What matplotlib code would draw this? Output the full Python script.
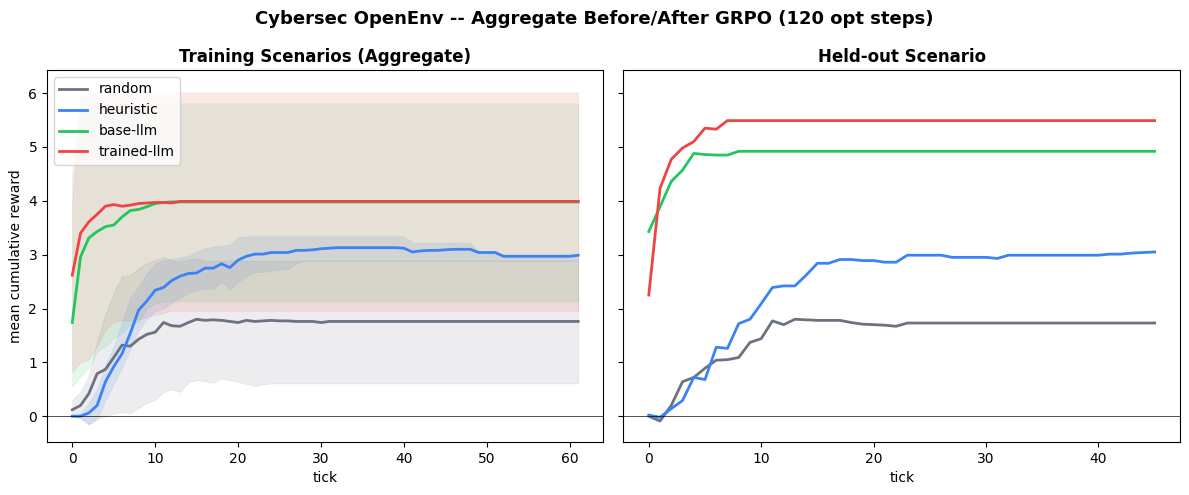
import matplotlib
matplotlib.use("Agg")
import matplotlib.pyplot as plt
import numpy as np

# ---------------- data: training scenarios (aggregate), ticks 0..61 ----------------
train_ticks = list(range(62))

random_train = [0.12, 0.20, 0.42, 0.79, 0.87, 1.09, 1.32, 1.30, 1.43, 1.52,
                1.56, 1.74, 1.68, 1.67, 1.74, 1.80, 1.78, 1.79, 1.78, 1.76,
                1.74, 1.78, 1.76, 1.77, 1.78, 1.77, 1.77, 1.76, 1.76, 1.76,
                1.74] + [1.76] * 31
random_train_lo = [0.05, -0.02, -0.15, -0.05, 0.00, 0.05, 0.08, 0.05, 0.15, 0.25,
                   0.30, 0.45, 0.50, 0.45, 0.63, 0.67, 0.65, 0.62, 0.70, 0.67,
                   0.64, 0.60, 0.56, 0.59] + [0.61] * 38
random_train_hi = [0.30, 0.45, 0.75, 1.40, 1.90, 2.30, 2.60, 2.62, 2.75, 2.85,
                   2.90, 2.96, 2.90, 2.87, 2.92, 2.93] + [2.89] * 46

heuristic_train = [0.00, 0.00, 0.06, 0.20, 0.64, 0.92, 1.16, 1.54, 1.97, 2.14,
                   2.34, 2.39, 2.52, 2.60, 2.65, 2.66, 2.75, 2.75, 2.83, 2.76,
                   2.90, 2.97, 3.01, 3.01, 3.04, 3.04, 3.04, 3.08, 3.08, 3.09,
                   3.11, 3.12, 3.13, 3.13, 3.13, 3.13, 3.13, 3.13, 3.13, 3.13,
                   3.12, 3.05, 3.07, 3.08, 3.08, 3.09, 3.10, 3.10, 3.10, 3.04,
                   3.04, 3.04, 2.97, 2.97, 2.97, 2.97, 2.97, 2.97, 2.97, 2.97,
                   2.97, 2.99]
heuristic_train_lo = [0.00, -0.05, -0.15, -0.05, 0.30, 0.60, 0.90, 1.25, 1.60, 1.80,
                      1.95, 2.00, 2.10, 2.20, 2.30, 2.34, 2.37, 2.37, 2.50, 2.35,
                      2.50, 2.60, 2.68, 2.68, 2.70, 2.72, 2.74, 2.84] + [2.89] * 34
heuristic_train_hi = [0.00, 0.05, 0.25, 0.50, 0.95, 1.30, 1.75, 2.20, 2.40, 2.65,
                      2.84, 2.90, 2.92, 2.95, 2.98, 3.05, 3.12, 3.15, 3.17, 3.18,
                      3.32] + [3.34] * 20 + [3.22] * 8 + [3.06] * 3 + [3.00] * 10

base_train = [1.74, 2.96, 3.31, 3.43, 3.52, 3.55, 3.70, 3.82, 3.84, 3.89,
              3.95, 3.97] + [3.98] * 50
base_train_lo = [0.55, 0.75, 0.90, 1.20, 1.30, 1.45, 1.55, 1.70, 1.75, 2.00,
                 2.09, 2.12] + [2.14] * 50
base_train_hi = [4.00] + [5.81] * 61

trained_train = [2.62, 3.40, 3.61, 3.75, 3.90, 3.93, 3.90, 3.92, 3.95, 3.96,
                 3.97, 3.97, 3.96] + [3.99] * 49
trained_train_lo = [0.82, 1.00, 1.05, 1.30, 1.60, 1.75, 1.78, 1.78, 1.80, 1.85,
                    1.88, 1.92] + [1.96] * 50
trained_train_hi = [4.50] + [6.01] * 61

# ---------------- data: held-out scenario, ticks 0..45 ----------------
held_ticks = list(range(46))

random_held = [0.00, -0.09, 0.20, 0.64, 0.72, 0.89, 1.04, 1.05, 1.09, 1.37,
               1.44, 1.77, 1.70, 1.80, 1.79, 1.78, 1.78, 1.78, 1.74, 1.71,
               1.70, 1.69, 1.67] + [1.73] * 23
heuristic_held = [0.02, -0.02, 0.14, 0.29, 0.72, 0.68, 1.28, 1.26, 1.72, 1.80,
                  2.09, 2.39, 2.42, 2.42, 2.62, 2.84, 2.84, 2.91, 2.91, 2.89,
                  2.89, 2.86, 2.86, 2.99, 2.99, 2.99, 2.99, 2.95, 2.95, 2.95,
                  2.95, 2.93] + [2.99] * 9 + [3.01, 3.01, 3.03, 3.04, 3.05]
base_held = [3.43, 3.89, 4.36, 4.57, 4.88, 4.86, 4.85, 4.85] + [4.92] * 38
trained_held = [2.25, 4.23, 4.77, 4.98, 5.10, 5.35, 5.33] + [5.49] * 39

labels = ["random", "heuristic", "base-llm", "trained-llm"]
colors = ["#6b7280", "#3b82f6", "#22c55e", "#ef4444"]

# ---------------- plotting ----------------
fig, (ax1, ax2) = plt.subplots(1, 2, figsize=(11.89, 4.95), dpi=100, sharey=True)
fig.subplots_adjust(left=0.0395, right=0.9924, bottom=0.107, top=0.8586, wspace=0.036)

train_series = [
    (random_train, random_train_lo, random_train_hi),
    (heuristic_train, heuristic_train_lo, heuristic_train_hi),
    (base_train, base_train_lo, base_train_hi),
    (trained_train, trained_train_lo, trained_train_hi),
]
for (m, lo, hi), lab, c in zip(train_series, labels, colors):
    ax1.fill_between(train_ticks, lo, hi, color=c, alpha=0.12, linewidth=0.6)
    ax1.plot(train_ticks, m, color=c, lw=2, label=lab)

held_series = [random_held, heuristic_held, base_held, trained_held]
for m, lab, c in zip(held_series, labels, colors):
    ax2.plot(held_ticks, m, color=c, lw=2, label=lab)

for ax in (ax1, ax2):
    ax.axhline(0, color="black", lw=0.6, alpha=0.8)
    ax.set_xlabel("tick")

ax1.set_ylim(-0.48, 6.43)
ax1.set_ylabel("mean cumulative reward")
ax1.set_title("Training Scenarios (Aggregate)", fontweight="bold", fontsize=12)
ax2.set_title("Held-out Scenario", fontweight="bold", fontsize=12)
ax1.legend(loc="upper left")

fig.suptitle("Cybersec OpenEnv -- Aggregate Before/After GRPO (120 opt steps)",
             fontweight="bold", fontsize=13, y=0.98)

fig.savefig("out.png", dpi=100)
